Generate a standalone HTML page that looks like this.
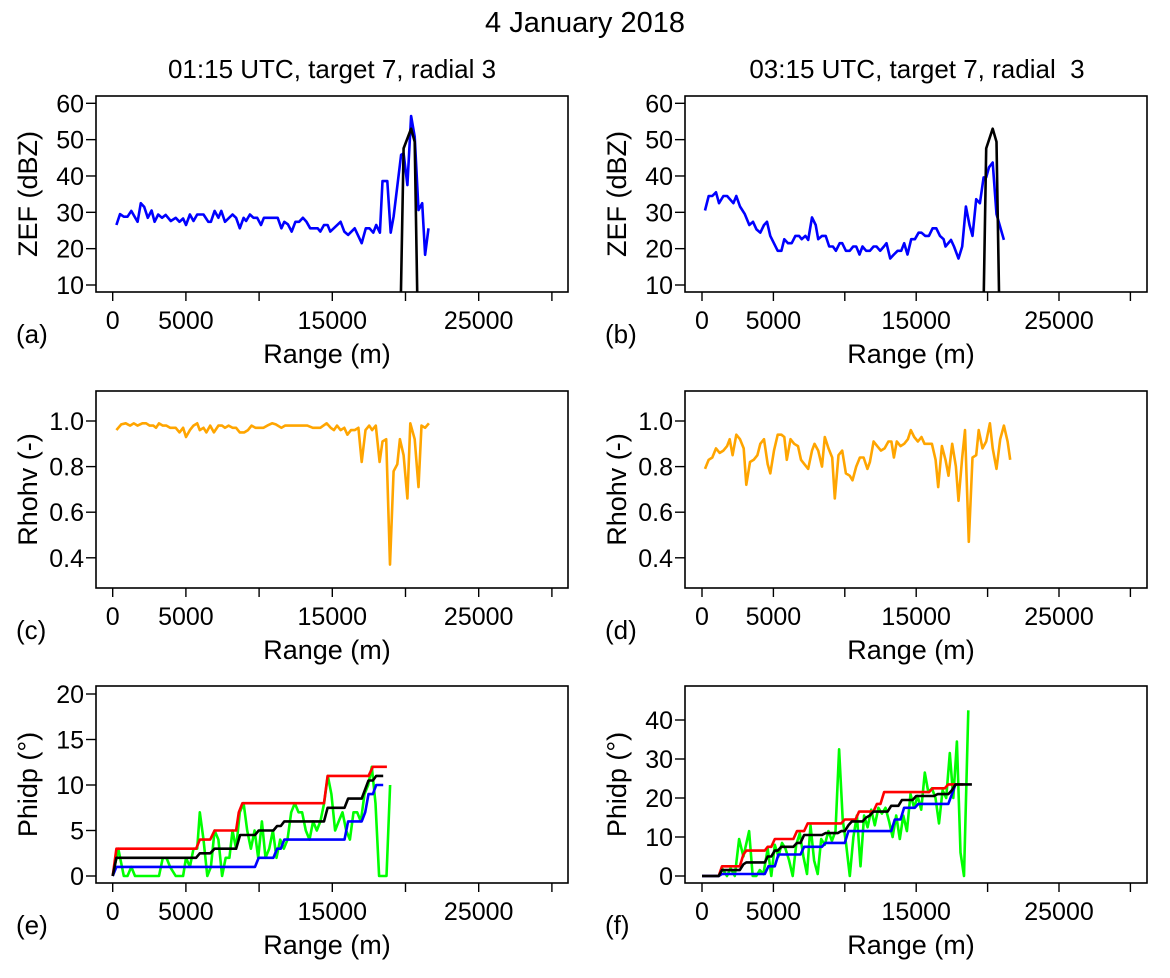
<!DOCTYPE html>
<html><head><meta charset="utf-8"><style>
body{margin:0;background:#fff;}
svg text{font-family:"Liberation Sans",sans-serif;fill:#000;}
</style></head><body>
<svg id="fig" width="1170" height="973" viewBox="0 0 1170 973" xmlns="http://www.w3.org/2000/svg">
<text x="585" y="32" font-size="29" text-anchor="middle">4 January 2018</text>
<text x="332" y="78" font-size="26" text-anchor="middle">01:15 UTC, target 7, radial 3</text>
<text x="917" y="78" font-size="26" text-anchor="middle" xml:space="preserve">03:15 UTC, target 7, radial  3</text>
</svg>
<script>
const zefA=[[250,26.5],[500,29.5],[760,28.8],[1010,28.8],[1270,30.4],[1520,28.6],[1700,27.4],[1920,32.5],[2150,31.5],[2400,28.5],[2660,30.5],[2860,27.4],[3110,29.4],[3370,28.5],[3620,29.3],[3970,27.6],[4300,28.5],[4560,27.4],[4810,28.3],[5010,26.5],[5270,29.4],[5520,27.6],[5770,29.4],[6200,29.4],[6530,27.4],[6710,27.4],[6960,30.4],[7220,28.5],[7420,30.4],[7670,27.4],[8180,29.4],[8430,28.5],[8680,25.6],[8940,28.5],[9110,27.6],[9370,29.4],[9620,28.5],[9870,28.5],[10130,26.5],[10330,28.5],[11270,28.5],[11520,25.6],[11720,27.4],[11970,26.7],[12230,24.7],[12480,27.4],[12730,27.4],[12990,28.5],[13240,27.4],[13490,25.6],[14000,25.6],[14180,24.7],[14430,26.5],[14680,26.5],[14860,24.7],[15570,27.4],[15820,24.7],[16080,23.8],[16530,25.6],[17010,21.5],[17290,25.6],[17540,25.6],[17800,24.4],[18000,26.5],[18250,24.4],[18430,38.6],[18760,38.6],[18990,24.4],[19190,28.8],[19700,45.8],[19870,46.2],[20130,37.5],[20380,56.5],[20630,50.8],[20890,30.6],[21140,32.5],[21340,18.3],[21570,25.6]];
const refA=[[19650,0],[19870,47.6],[20380,53],[20630,49.4],[20830,0]];
const zefB=[[210,30.5],[470,34.5],[720,34.5],[980,35.5],[1190,32.5],[1500,34.5],[1760,34.5],[2200,32.5],[2400,34.5],[2660,31.6],[3000,29.5],[3310,26.5],[3570,27.4],[3820,25.3],[4080,24.4],[4340,26.5],[4550,27.4],[4780,23.5],[5300,19.4],[5560,19.4],[5760,22.6],[6020,21.5],[6280,21.5],[6540,23.5],[6800,23.5],[6980,22.6],[7240,23.5],[7440,22.4],[7700,28.6],[7960,26.5],[8140,22.6],[8400,23.5],[8660,23.5],[8910,20.6],[9170,20.6],[9380,19.4],[9640,21.5],[9820,21.5],[10080,19.4],[10340,19.4],[10590,20.6],[10800,20.6],[11030,18.4],[11240,20.6],[11500,19.4],[11760,19.4],[12020,20.6],[12220,20.6],[12480,19.4],[12740,20.6],[12920,21.5],[13180,17.3],[13440,18.4],[13700,19.4],[13950,19.4],[14160,21.5],[14390,18.4],[14650,22.6],[14910,22.6],[15170,24.4],[15370,24.4],[15630,23.5],[15890,23.5],[16150,25.6],[16410,25.6],[16670,23.5],[16920,22.6],[17050,20.6],[17440,22.4],[17650,20.6],[17960,17.3],[18220,20.6],[18480,31.6],[18730,26.5],[18940,23.5],[19200,33.6],[19460,32.5],[19720,39.6],[19900,39.6],[20100,42.4],[20360,43.7],[20620,29.5],[21140,22.4]];
const refB=[[19700,0],[19900,47.6],[20360,53],[20620,49.4],[20830,0]];
const rhoC=[[250,.96],[580,.985],[890,.99],[1190,.98],[1440,.99],[1700,.98],[2030,.99],[2280,.99],[2530,.98],[2780,.98],[2960,.97],[3160,.99],[3420,.98],[3670,.98],[3920,.97],[4300,.97],[4560,.95],[4810,.97],[5010,.93],[5270,.96],[5520,.98],[5770,.99],[5950,.96],[6200,.97],[6400,.95],[6660,.98],[6910,.95],[7220,.98],[7470,.98],[7670,.97],[7920,.98],[8180,.97],[8430,.97],[8680,.95],[8990,.95],[9240,.96],[9490,.98],[9750,.97],[10300,.97],[10560,.98],[10890,.99],[11140,.985],[11520,.97],[11770,.98],[13290,.98],[13670,.97],[14180,.97],[14610,.99],[14890,.97],[15110,.96],[15320,.98],[15570,.96],[15820,.97],[16030,.94],[16280,.96],[16530,.96],[16780,.97],[17010,.82],[17270,.96],[17520,.98],[17720,.96],[17970,.98],[18230,.82],[18430,.91],[18680,.92],[18940,.37],[19190,.78],[19440,.81],[19620,.92],[19870,.85],[20130,.66],[20330,.99],[20630,.92],[20890,.71],[21090,.98],[21340,.97],[21600,.99]];
const rhoD=[[210,.79],[470,.83],[720,.84],[980,.88],[1240,.86],[1500,.87],[1760,.89],[1940,.92],[2140,.85],[2400,.94],[2660,.92],[2920,.88],[3100,.72],[3360,.82],[3620,.83],[3880,.85],[4080,.90],[4340,.92],[4600,.81],[4780,.77],[5040,.87],[5300,.94],[5560,.94],[5760,.93],[5940,.83],[6200,.92],[6460,.90],[6720,.89],[6930,.83],[7180,.81],[7440,.79],[7700,.87],[7880,.90],[8140,.87],[8400,.80],[8600,.93],[8860,.88],[9120,.84],[9300,.66],[9560,.85],[9820,.87],[10080,.77],[10340,.76],[10540,.74],[10800,.80],[11060,.84],[11320,.84],[11580,.79],[11760,.82],[12020,.91],[12270,.89],[12530,.87],[12790,.88],[13050,.91],[13260,.91],[13440,.84],[13640,.91],[13900,.89],[14160,.90],[14420,.92],[14620,.96],[14860,.93],[15120,.91],[15370,.93],[15580,.90],[15840,.90],[16100,.90],[16360,.83],[16540,.71],[16800,.89],[17050,.83],[17260,.76],[17520,.90],[17780,.80],[17960,.65],[18220,.84],[18420,.96],[18680,.47],[18940,.84],[19200,.85],[19380,.96],[19640,.88],[19900,.91],[20160,.99],[20360,.88],[20620,.79],[20880,.92],[21140,.98],[21400,.91],[21580,.83]];
const phiEGreen=[[0,0],[380,3],[760,0],[1010,0],[1270,1],[1520,0],[3160,0],[3420,2],[3670,2],[3920,1],[4300,0],[4810,0],[5010,2],[5270,1],[5520,3],[5770,3],[5950,7],[6200,4],[6460,0],[6710,1],[6960,5],[7220,4],[7470,0],[7720,2],[7970,2],[8180,5],[8430,3],[8680,7],[8940,8],[9190,5],[9440,3],[9690,5],[9940,2],[10190,6],[10440,2],[10690,3],[10940,5],[11190,2],[11440,4],[11690,3],[11940,4],[12190,7],[12440,8],[12690,7],[12940,7],[13190,5],[13440,4],[13690,6],[13940,5],[14190,6],[14440,8],[14690,11],[14940,9],[15190,5],[15440,6],[15700,7],[15950,5],[16200,4],[16450,7],[16700,7],[16950,6],[17200,9],[17450,10],[17700,12],[17950,8],[18200,0],[18700,0],[18950,10]];
const phiERed=[[0,0],[250,3],[5700,3],[5950,4],[6660,4],[6960,5],[8430,5],[8610,7],[8860,8],[14430,8],[14680,11],[17470,11],[17770,12],[18730,12]];
const phiEBlack=[[0,0],[250,2],[5700,2],[5950,2.5],[6660,2.5],[6960,3],[8430,3],[8700,4.5],[9720,4.5],[9970,5],[10980,5],[11230,5.5],[11480,5.5],[11720,6],[14430,6],[14680,7.5],[15830,7.5],[16080,8.5],[17010,8.5],[17470,10.5],[17770,10.5],[18000,11],[18480,11]];
const phiEBlue=[[0,0],[250,1],[9720,1],[9970,2],[10980,2],[11230,3],[11480,3],[11720,4],[15830,4],[16080,6],[17010,6],[17250,7],[17470,9],[17770,9],[18000,10],[18480,10]];
const phiFGreen=[[0,0],[1170,0],[1400,2],[1750,0],[2000,2],[2300,0],[2600,9.5],[2900,5],[3300,11.5],[3550,0],[3800,0],[4050,1.5],[4300,0.5],[4600,7],[4850,0],[5100,8],[5350,5],[5600,8.5],[5850,7],[6100,4],[6350,0],[6600,8],[6850,11],[7100,5],[7350,0.5],[7600,13],[7850,4],[8100,0.5],[8350,9.5],[8600,8],[8850,11.5],[9100,9],[9350,11.5],[9600,32.5],[9850,14.5],[10100,8],[10350,0],[10600,10],[10850,15.5],[11100,2.5],[11350,15.5],[11600,12.5],[11850,17],[12100,13],[12350,17.5],[12600,16],[12850,17.5],[13100,14],[13350,10],[13600,15.5],[13850,9.5],[14100,15.5],[14350,11.5],[14600,21],[14850,17.5],[15100,20.5],[15350,17],[15600,26.5],[15850,21.5],[16100,22.5],[16350,20],[16600,13.5],[16850,22],[17100,20],[17350,31.5],[17600,20],[17850,34.5],[18100,6],[18350,0],[18650,42.5]];
const phiFRed=[[0,0],[1170,0],[1400,2.5],[2650,2.5],[2900,5.5],[3100,6.5],[4400,6.5],[4600,7.5],[4850,7.5],[5100,9.5],[6400,9.5],[6650,11.5],[7150,11.5],[7400,13.5],[9750,13.5],[10000,14.5],[10750,14.5],[11000,16.5],[12000,16.5],[12250,18.5],[12500,18.5],[12750,21.5],[15900,21.5],[16150,22.5],[17000,22.5],[17250,23.5],[18300,23.5]];
const phiFBlack=[[0,0],[1170,0],[1400,1.5],[2650,1.5],[2900,3],[3100,3.5],[4400,3.5],[4600,5],[4850,5],[5100,6.5],[5300,6.5],[5550,7.5],[6400,7.5],[6650,8.5],[6900,8.5],[7150,10.5],[8400,10.5],[8650,11],[9500,11],[9750,11.5],[10000,11.5],[10250,13],[10500,14],[11250,14],[11500,15],[11750,15.5],[12000,16.5],[13000,16.5],[13250,18],[13750,18],[14000,19.5],[14750,19.5],[15000,20.5],[16250,20.5],[16500,21],[17250,21],[17500,22],[17750,23.5],[18900,23.5]];
const phiFBlue=[[0,0],[1170,0],[1400,0.5],[4400,0.5],[4650,2.5],[5100,2.5],[5350,5.5],[6900,5.5],[7150,7.5],[8400,7.5],[8650,8.5],[10000,8.5],[10250,11.5],[13250,11.5],[13500,14.5],[13900,14.5],[14150,17.5],[14900,17.5],[15150,18.5],[17250,18.5],[17750,23.5]];
const xTicks=[0,5000,10000,15000,20000,25000,30000];
const xTickLabels=["0","5000","","15000","","25000",""];
const zefTicks=[10,20,30,40,50,60];
const rhoTicks=[0.4,0.6,0.8,1.0];
const rhoTickLabels=["0.4","0.6","0.8","1.0"];
const phiETicks=[0,5,10,15,20];
const phiFTicks=[0,10,20,30,40];

const NS="http://www.w3.org/2000/svg";
const svg=document.getElementById('fig');
function mk(tag,attrs,parent){const e=document.createElementNS(NS,tag);for(const k in attrs)e.setAttribute(k,attrs[k]);(parent||svg).appendChild(e);return e;}
let clipN=0;
function panel(p){
  const g=mk('g',{});
  
  
  const sx=v=>p.x0+v*p.kx;
  const sy=v=>p.y0-(v-p.v0)*p.ky;
  const cid='c'+(clipN++);
  const cp=mk('clipPath',{id:cid},g);
  mk('rect',{x:p.L,y:p.T,width:p.R-p.L,height:p.B-p.T},cp);
  const sg=mk('g',{'clip-path':'url(#'+cid+')'},g);
  p.series.forEach(s=>{
    const d=s.data.map((pt,i)=>(i?'L':'M')+sx(pt[0]).toFixed(1)+' '+sy(pt[1]).toFixed(1)).join(' ');
    const path=mk('path',{d:d,fill:'none',stroke:s.color,'stroke-width':2.6,'stroke-linejoin':'round'},sg);
    
    
  });
  const box=mk('rect',{x:p.L,y:p.T,width:p.R-p.L,height:p.B-p.T,fill:'none',stroke:'#000','stroke-width':1.6},g);
  
  
  xTicks.forEach((t,i)=>{
    const x=sx(t);
    mk('line',{x1:x,x2:x,y1:p.B,y2:p.B+9,stroke:'#000','stroke-width':1.4},g);
    if(xTickLabels[i]){const tx=mk('text',{x:x,y:p.B+37,'font-size':25,'text-anchor':'middle'},g);tx.textContent=xTickLabels[i];
      
      }
  });
  p.yTicks.forEach((t,i)=>{
    const y=sy(t);
    mk('line',{x1:p.L-10,x2:p.L,y1:y,y2:y,stroke:'#000','stroke-width':1.4},g);
    const tx=mk('text',{x:p.L-12,y:y+9,'font-size':25,'text-anchor':'end'},g);
    tx.textContent=p.yLabels?p.yLabels[i]:String(t);
    
    
  });
  const xt=mk('text',{x:(p.L+p.R)/2-5,y:p.B+71,'font-size':27,'text-anchor':'middle'},g);
  xt.textContent='Range (m)';
  
  
  const yc=(p.T+p.B)/2;
  const yt=mk('text',{x:0,y:0,'font-size':27,'text-anchor':'middle',transform:`translate(${p.L-59},${yc}) rotate(-90)`},g);
  yt.textContent=p.ylab;
  
  
  const lt=mk('text',{x:p.L-80,y:p.B+51,'font-size':26},g);
  lt.textContent=p.tag;
  
  
}
const LX={x0:112.7,kx:0.01464,L:96,R:568};
const RX={x0:702,kx:0.01428,L:685,R:1147};
const zefY={T:96,B:292,y0:285,v0:10,ky:3.634};
const rhoY={T:391,B:588,y0:421,v0:1.0,ky:228};
panel(Object.assign({name:'panel-a-zef',tag:'(a)',ylab:'ZEF (dBZ)',yTicks:zefTicks,series:[{name:'zef-line',color:'#0000ff',data:zefA},{name:'reference-line',color:'#000',data:refA}]},LX,zefY));
panel(Object.assign({name:'panel-b-zef',tag:'(b)',ylab:'ZEF (dBZ)',yTicks:zefTicks,series:[{name:'zef-line',color:'#0000ff',data:zefB},{name:'reference-line',color:'#000',data:refB}]},RX,zefY));
panel(Object.assign({name:'panel-c-rhohv',tag:'(c)',ylab:'Rhohv (-)',yTicks:rhoTicks,yLabels:rhoTickLabels,series:[{name:'rhohv-line',color:'#ffa500',data:rhoC}]},LX,rhoY));
panel(Object.assign({name:'panel-d-rhohv',tag:'(d)',ylab:'Rhohv (-)',yTicks:rhoTicks,yLabels:rhoTickLabels,series:[{name:'rhohv-line',color:'#ffa500',data:rhoD}]},RX,rhoY));
panel(Object.assign({name:'panel-e-phidp',tag:'(e)',ylab:'Phidp (°)',yTicks:phiETicks,series:[{name:'phidp-raw',color:'#00ff00',data:phiEGreen},{name:'phidp-upper',color:'#ff0000',data:phiERed},{name:'phidp-lower',color:'#0000ff',data:phiEBlue},{name:'phidp-mean',color:'#000',data:phiEBlack}]},LX,{T:686,B:883,y0:876,v0:0,ky:9.1}));
panel(Object.assign({name:'panel-f-phidp',tag:'(f)',ylab:'Phidp (°)',yTicks:phiFTicks,series:[{name:'phidp-raw',color:'#00ff00',data:phiFGreen},{name:'phidp-upper',color:'#ff0000',data:phiFRed},{name:'phidp-lower',color:'#0000ff',data:phiFBlue},{name:'phidp-mean',color:'#000',data:phiFBlack}]},RX,{T:686,B:883,y0:876,v0:0,ky:3.9}));
</script>
</body></html>
